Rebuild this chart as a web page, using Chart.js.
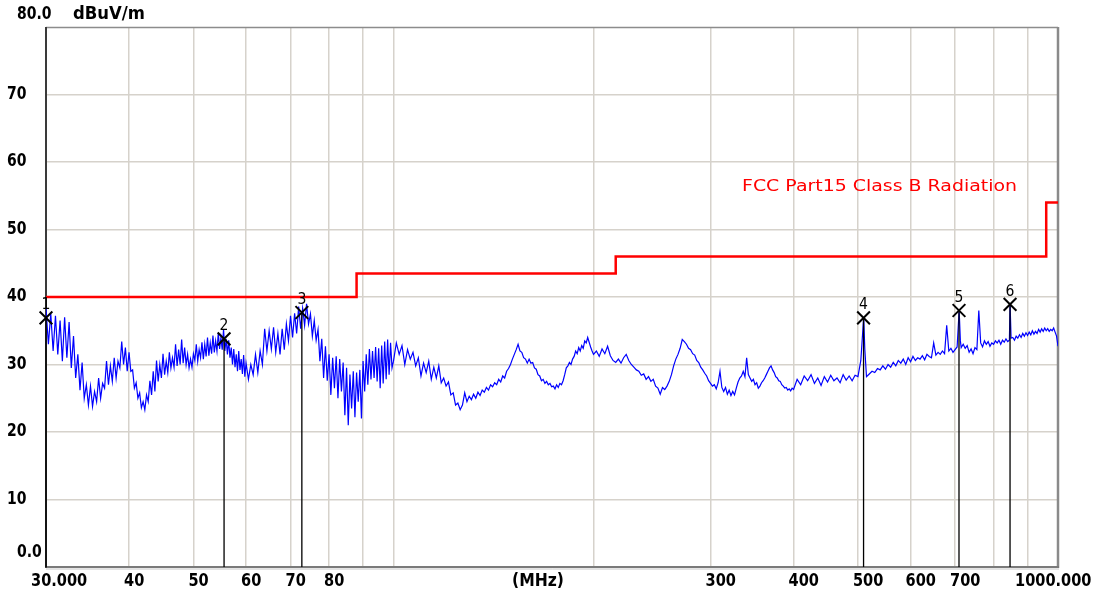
<!DOCTYPE html>
<html><head><meta charset="utf-8">
<script src="https://cdn.jsdelivr.net/npm/chart.js@4.4.1/dist/chart.umd.min.js"></script>
<style>html,body{margin:0;padding:0;background:#fff;} #wrap{width:1099px;height:596px;position:relative;}</style>
</head><body><div id="wrap"><canvas id="c"></canvas></div>
<script>
// ---- axis definitions ----
const yTickValues = [10, 20, 30, 40, 50, 60, 70];
const xGridFreqs = [40, 50, 60, 70, 80, 90, 100, 200, 300, 400, 500, 600, 700, 800, 900];
const xTickLabels = [[30,'30.000'],[40,'40'],[50,'50'],[60,'60'],[70,'70'],[80,'80'],[300,'300'],[400,'400'],[500,'500'],[600,'600'],[700,'700'],[1000,'1000.000']];

// ---- limit line (FCC Part15 Class B) ----
const limitFreqs = [30, 88, 216, 960, 1000];
const limitLevels = [40, 43.5, 46, 54, 54];

// ---- markers ----
const markerNames = ['1', '2', '3', '4', '5', '6'];
const markerFreqs = [30.0, 55.6, 72.8, 509.8, 709.6, 846.9];
const markerLevels = [36.9, 33.8, 37.7, 36.9, 38.0, 38.9];

// ---- measured trace [MHz, dBuV/m] ----
const trace30to60 = [
[30.00,38.3],[30.25,33.0],[30.50,37.5],[30.75,32.0],[31.00,37.2],[31.25,31.5],[31.50,36.5],[31.75,30.5],
[32.00,37.0],[32.25,31.0],[32.50,36.3],[32.75,29.5],[33.00,34.2],[33.25,28.0],[33.50,31.5],[33.75,26.2],
[34.00,30.3],[34.25,25.0],[34.50,27.0],[34.75,24.0],[35.00,26.8],[35.25,23.8],[35.50,26.0],[35.75,24.5],
[36.00,28.0],[36.25,25.0],[36.50,27.2],[36.75,26.5],[37.00,30.5],[37.25,27.0],[37.50,29.8],[37.75,27.5],
[38.00,31.0],[38.25,28.0],[38.50,30.5],[38.75,29.5],[39.00,33.4],[39.25,30.0],[39.50,32.5],[39.75,29.0],
[40.00,31.8],[40.25,29.0],[40.50,29.2],[40.75,26.5],[41.00,27.3],[41.25,25.0],[41.50,25.8],[41.75,23.6],
[42.00,24.5],[42.25,23.3],[42.50,25.5],[42.75,24.5],[43.00,27.6],[43.25,25.5],[43.50,29.0],[43.75,26.0],
[44.00,30.6],[44.25,27.5],[44.50,30.0],[44.75,28.0],[45.00,31.6],[45.25,28.5],[45.50,30.5],[45.75,28.8],
[46.00,31.8],[46.25,29.5],[46.50,31.0],[46.75,29.6],[47.00,33.0],[47.25,29.8],[47.50,32.2],[47.75,30.0],
[48.00,33.7],[48.25,30.2],[48.50,32.5],[48.75,30.0],[49.00,31.5],[49.25,29.5],[49.50,30.8],[49.75,29.6],
[50.00,31.6],[50.25,30.6],[50.50,33.0],[50.75,30.5],[51.00,32.2],[51.25,31.0],[51.50,33.3],[51.75,30.8],
[52.00,33.0],[52.25,31.2],[52.50,34.0],[52.75,31.3],[53.00,33.2],[53.25,31.6],[53.50,34.3],[53.75,31.8],
[54.00,33.5],[54.25,32.0],[54.50,34.7],[54.75,32.3],[55.00,34.0],[55.25,32.2],[55.50,35.2],[55.75,32.0],
[56.00,33.8],[56.25,31.5],[56.50,33.6],[56.75,31.0],[57.00,32.5],[57.25,30.0],[57.50,32.3],[57.75,29.6],
[58.00,31.5],[58.25,29.0],[58.50,32.0],[58.75,29.2],[59.00,30.8],[59.25,28.6],[59.50,31.4],[59.75,28.2]
];
const trace60to100 = [
[60.0,30.2],[60.5,27.8],[61.0,30.0],[61.5,28.5],[62.0,31.5],[62.5,28.8],[63.0,32.0],[63.5,30.0],
[64.0,35.3],[64.5,32.0],[65.0,35.0],[65.5,32.3],[66.0,35.5],[66.5,31.8],[67.0,34.6],[67.5,31.5],
[68.0,35.3],[68.5,32.2],[69.0,36.0],[69.5,33.5],[70.0,37.2],[70.5,34.0],[71.0,37.6],[71.5,34.6],
[72.0,38.6],[72.5,35.3],[73.0,38.3],[73.5,35.8],[74.0,39.0],[74.5,36.0],[75.0,37.5],[75.5,34.2],
[76.0,36.5],[76.5,33.6],[77.0,35.2],[77.5,30.5],[78.0,33.8],[78.5,28.0],[79.0,32.7],[79.5,27.6],
[80.0,31.5],[80.5,25.5],[81.0,31.0],[81.5,26.5],[82.0,31.2],[82.5,25.0],[83.0,30.8],[83.5,26.0],
[84.0,30.3],[84.5,22.5],[85.0,29.5],[85.5,21.0],[86.0,28.5],[86.5,23.5],[87.0,29.0],[87.5,22.2],
[88.0,28.8],[88.5,24.5],[89.0,29.2],[89.5,22.0],[90.0,30.5],[90.5,26.0],[91.0,31.5],[91.5,27.0],
[92.0,32.3],[92.5,27.8],[93.0,32.0],[93.5,28.0],[94.0,32.6],[94.5,27.5],[95.0,32.4],[95.5,26.5],
[96.0,32.8],[96.5,27.2],[97.0,33.4],[97.5,27.8],[98.0,33.7],[98.5,28.5],[99.0,33.2],[99.5,29.5]
];
const trace100to200 = [
[100,30.5],[101,33.2],[102,31.5],[103,32.8],[104,30.0],[105,32.2],[106,30.8],[107,31.8],[108,29.8],[109,31.0],
[110,28.3],[111,30.2],[112,28.8],[113,30.5],[114,27.8],[115,29.6],[116,28.0],[117,29.8],[118,27.3],[119,28.0],
[120,26.8],[121,27.4],[122,25.5],[123,25.8],[124,24.0],[125,24.3],[126,23.3],[127,24.0],[128,25.8],[129,24.5],
[130,25.3],[131,24.8],[132,25.6],[133,25.0],[134,25.9],[135,25.4],[136,26.2],[137,25.9],[138,26.6],[139,26.2],
[140,27.0],[141,26.7],[142,27.3],[143,27.0],[144,27.8],[145,27.4],[146,28.3],[147,28.0],[148,29.0],[149,29.4],
[150,30.0],[151,30.8],[152,31.5],[153,32.2],[154,33.0],[155,32.0],[156,31.8],[157,31.0],[158,30.8],[159,30.2],
[160,30.8],[161,30.2],[162,30.3],[163,29.5],[164,29.3],[165,28.5],[166,28.3],[167,27.6],[168,27.8],[169,27.2],
[170,27.5],[171,27.0],[172,27.2],[173,26.7],[174,26.8],[175,26.4],[176,27.0],[177,26.6],[178,27.2],[179,27.0],
[180,27.6],[181,28.5],[182,29.5],[183,29.8],[184,30.3],[185,30.0],[186,30.8],[187,31.2],[188,32.0],[189,31.6],
[190,32.5],[191,32.0],[192,32.8],[193,32.4],[194,33.5],[195,33.2],[196,34.0],[197,33.3],[198,32.6],[199,32.0]
];
const trace200to400 = [
[200,31.5],[202,32.0],[204,31.2],[206,32.3],[208,31.6],[210,32.7],[212,31.3],[214,30.6],[216,30.3],[218,30.8],
[220,30.2],[222,31.0],[224,31.5],[226,30.6],[228,30.0],[230,29.6],[232,29.2],[234,29.0],[236,28.4],[238,28.6],
[240,27.8],[242,28.2],[244,27.5],[246,27.8],[248,26.8],[250,26.5],[252,25.6],[254,26.6],[256,26.3],[258,26.8],
[260,27.5],[262,28.5],[264,29.8],[266,30.8],[268,31.5],[270,32.4],[272,33.7],[274,33.4],[276,33.0],[278,32.4],
[280,32.2],[282,31.6],[284,31.4],[286,30.6],[288,30.3],[290,29.6],[292,29.2],[294,28.7],[296,28.3],[298,27.6],
[300,27.2],[302,26.8],[304,27.0],[306,26.4],[308,27.3],[310,29.0],[312,26.6],[314,26.0],[316,26.6],[318,25.6],
[320,26.2],[322,25.4],[324,26.0],[326,25.5],[328,26.5],[330,27.4],[332,28.0],[334,28.3],[336,29.0],[338,28.2],
[340,31.0],[342,28.5],[344,28.0],[346,27.5],[348,27.8],[350,27.0],[352,27.3],[354,26.5],[356,26.8],[358,27.3],
[360,27.6],[362,28.0],[364,28.5],[366,29.0],[368,29.5],[370,29.8],[372,29.2],[374,28.8],[376,28.2],[378,28.0],
[380,27.6],[382,27.5],[384,27.0],[386,26.8],[388,26.5],[390,26.6],[392,26.2],[394,26.4],[396,26.1],[398,26.5]
];
const trace400to1000 = [
[400,26.3],[405,27.8],[410,27.0],[415,28.3],[420,27.6],[425,28.5],[430,27.2],[435,28.0],[440,26.9],[445,28.2],
[450,27.4],[455,28.4],[460,27.6],[465,28.0],[470,27.3],[475,28.5],[480,27.7],[485,28.3],[490,27.6],[495,28.4],
[500,28.2],[505,30.6],[510,37.0],[512,32.3],[515,28.2],[520,28.6],[525,29.0],[530,28.8],[535,29.4],[540,29.2],
[545,29.8],[550,29.3],[555,30.0],[560,29.6],[565,30.3],[570,29.8],[575,30.6],[580,30.2],[585,30.8],[590,30.0],
[595,31.0],[600,30.4],[605,31.2],[610,30.6],[615,31.0],[620,30.8],[625,31.3],[630,30.7],[635,31.5],[640,31.2],
[645,31.0],[650,33.2],[655,31.4],[660,31.8],[665,31.5],[670,32.0],[675,31.6],[680,35.8],[685,32.0],[690,32.4],
[695,31.8],[700,32.2],[705,32.6],[710,38.0],[713,33.5],[715,32.5],[720,33.0],[725,32.4],[730,32.8],[735,31.8],
[740,32.3],[745,31.6],[750,32.5],[755,32.2],[760,38.0],[765,33.2],[770,32.6],[775,33.5],[780,33.0],[785,33.4],
[790,32.7],[795,33.2],[800,33.0],[805,33.5],[810,33.2],[815,33.6],[820,33.0],[825,33.6],[830,33.3],[835,33.8],
[840,33.4],[845,33.6],[847,38.9],[850,33.9],[855,34.0],[860,33.6],[865,34.2],[870,33.9],[875,34.4],[880,34.0],
[885,34.6],[890,34.2],[895,34.7],[900,34.3],[905,34.8],[910,34.4],[915,35.0],[920,34.5],[925,34.9],[930,34.6],
[935,35.2],[940,34.8],[945,35.3],[950,34.9],[955,35.4],[960,35.0],[965,35.3],[970,34.9],[975,35.2],[980,35.0],
[985,35.4],[990,34.8],[995,34.2],[1000,32.7]
];

// ---- build datasets ----
const trace = trace30to60.concat(trace60to100, trace100to200, trace200to400, trace400to1000)
  .map(p => ({x: p[0], y: p[1]}));
const limit = limitFreqs.map((f, i) => ({x: f, y: limitLevels[i]}));
const marks = markerFreqs.map((f, i) => ({x: f, y: markerLevels[i]}));
const stems = markerFreqs.map((f, i) => ({
  label: 'stem' + i, data: [{x: f, y: markerLevels[i]}, {x: f, y: 0}],
  borderColor: '#000', borderWidth: 1.3, pointRadius: 0, order: 1, clip: false
}));

const FONT_B = 'bold 14px "DejaVu Sans"';
function txt(ctx, s, x, y, o) {
  ctx.save();
  ctx.font = o.font; ctx.fillStyle = o.color || '#000';
  ctx.textBaseline = 'middle'; ctx.textAlign = o.align || 'left';
  let sx = o.sx || 1;
  if (o.width) sx = o.width / ctx.measureText(s).width;
  ctx.translate(x, y); ctx.scale(sx, o.sy || 1);
  ctx.fillText(s, 0, 0);
  ctx.restore();
}

const frame = {
  id: 'frame',
  beforeDatasetsDraw(chart) {
    const {ctx, chartArea: a} = chart;
    ctx.save();
    ctx.strokeStyle = '#8c8c8c'; ctx.lineWidth = 1.5;
    ctx.beginPath(); ctx.moveTo(a.left, a.top + 0.5); ctx.lineTo(a.right, a.top + 0.5); ctx.stroke();
    ctx.lineWidth = 2.5; ctx.strokeStyle = '#8a8a8a';
    ctx.beginPath(); ctx.moveTo(a.right, a.top); ctx.lineTo(a.right, a.bottom + 1); ctx.stroke();
    ctx.lineWidth = 2; ctx.strokeStyle = '#7a7a7a';
    ctx.beginPath(); ctx.moveTo(a.left, a.bottom); ctx.lineTo(a.right + 1, a.bottom); ctx.stroke();
    ctx.strokeStyle = '#c8c8c8'; ctx.lineWidth = 1;
    ctx.beginPath(); ctx.moveTo(a.left, a.bottom + 2); ctx.lineTo(a.right + 1, a.bottom + 2); ctx.stroke();
    ctx.strokeStyle = '#3a3a3a'; ctx.lineWidth = 2;
    ctx.beginPath(); ctx.moveTo(a.left, a.top); ctx.lineTo(a.left, a.bottom + 1); ctx.stroke();
    ctx.restore();
  },
  afterDatasetsDraw(chart) {
    const {ctx, scales: {x, y}} = chart;
    markerNames.forEach((n, i) => {
      txt(ctx, n, x.getPixelForValue(markerFreqs[i]), y.getPixelForValue(markerLevels[i]) - 13,
        {font: '14px "DejaVu Sans"', align: 'center', sy: 1.15});
    });
  },
  afterDraw(chart) {
    const {ctx, chartArea: a, scales: {x, y}} = chart;
    yTickValues.forEach(v => txt(ctx, String(v), 7, y.getPixelForValue(v), {font: FONT_B, sy: 1.2}));
    txt(ctx, '0.0', 17, y.getPixelForValue(0) - 14, {font: FONT_B, sy: 1.2});
    txt(ctx, '80.0', 17, 15, {font: FONT_B, sy: 1.2});
    txt(ctx, 'dBuV/m', 73, 15, {font: FONT_B, sy: 1.2, width: 72});
    const ly = a.bottom + 15;
    xTickLabels.forEach(([v, s]) => {
      let px = x.getPixelForValue(v) - 5;
      if (v === 30) px = x.getPixelForValue(v) - 15;
      if (v === 1000) px = x.getPixelForValue(v) - 43;
      txt(ctx, s, px, ly, {font: FONT_B, sy: 1.2, sx: 1.04});
    });
    txt(ctx, '(MHz)', (a.left + a.right) / 2 - 14, ly, {font: FONT_B, sy: 1.2, width: 52, align: 'center'});
    txt(ctx, 'FCC Part15 Class B Radiation', 742, 186.5, {font: '15px "DejaVu Sans"', color: '#ff0000', width: 275, sy: 1.1});
  }
};

new Chart(document.getElementById('c'), {
  type: 'line',
  data: {
    datasets: [
      {label: 'markers', data: marks, showLine: false, pointStyle: 'crossRot', pointRadius: 9,
       borderColor: '#000', backgroundColor: 'transparent', pointBorderWidth: 2, borderWidth: 2, order: 0, clip: false},
      ...stems,
      {label: 'trace', data: trace, borderColor: '#0000ff', borderWidth: 1.2, pointRadius: 0, order: 2},
      {label: 'limit', data: limit, stepped: 'before', borderColor: '#ff0000', borderWidth: 2.5, pointRadius: 0, order: 3}
    ]
  },
  options: {
    responsive: true, maintainAspectRatio: false, animation: false,
    layout: {padding: {top: 27, right: 41, left: 0, bottom: 0}},
    plugins: {legend: {display: false}, tooltip: {enabled: false}},
    elements: {line: {tension: 0}},
    scales: {
      x: {type: 'logarithmic', min: 30, max: 1000, bounds: 'data',
          afterBuildTicks: s => { s.ticks = xGridFreqs.map(v => ({value: v})); },
          ticks: {display: false},
          grid: {color: '#d6d2cb', lineWidth: 1.5, drawTicks: false},
          border: {display: false},
          afterFit: s => { s.height = 29; }},
      y: {type: 'linear', min: 0, max: 80,
          afterBuildTicks: s => { s.ticks = yTickValues.map(v => ({value: v})); },
          ticks: {display: false},
          grid: {color: '#d6d2cb', lineWidth: 1.5, drawTicks: false},
          border: {display: false},
          afterFit: s => { s.width = 46; }}
    }
  },
  plugins: [frame]
});
</script>
</body></html>
